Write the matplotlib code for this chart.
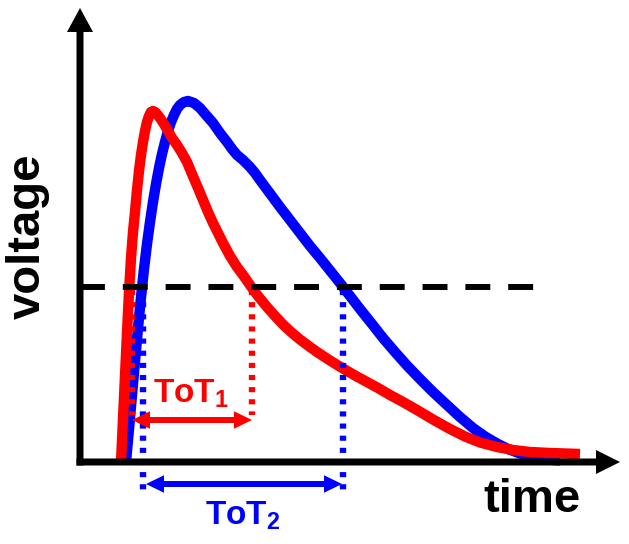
import matplotlib
matplotlib.use("Agg")
import matplotlib.pyplot as plt

plt.rcParams['font.family'] = ['Liberation Sans', 'DejaVu Sans']
plt.rcParams['mathtext.fontset'] = 'custom'
plt.rcParams['mathtext.rm'] = 'Liberation Sans:bold'
plt.rcParams['mathtext.it'] = 'Liberation Sans:bold'
plt.rcParams['mathtext.bf'] = 'Liberation Sans:bold'
plt.rcParams['mathtext.default'] = 'rm'

# ---- data (arbitrary time / voltage units) ----
red_t = [41, 43, 45, 47, 49, 51, 53, 55, 57, 59, 61, 63, 65, 67, 69, 71, 73, 75, 77,
         80, 84, 88, 92, 97, 102, 107, 112, 118, 123, 128, 133, 138, 143, 150, 157,
         163, 170, 178, 187, 195, 203, 211, 220, 228, 237, 250, 263, 275, 287, 298,
         310, 323, 337, 353, 370, 385, 400, 417, 433, 450, 470, 500]
red_v = [0, 43, 86, 129, 170, 204, 230, 250, 272, 291, 307, 320, 331, 340, 346, 350,
         351, 350, 348, 344, 338, 331, 324, 317, 309, 300, 288, 274, 262, 250, 239, 229,
         219, 206, 195, 187, 177, 166, 155, 146, 137.5, 130, 122.5, 116.5, 110, 101.5,
         93.5, 86.5, 80, 74, 67, 60, 52, 42.5, 33, 25.5, 19.5, 15, 12, 10, 9, 8]

blue_t = [46, 49, 52, 55, 58, 61, 64, 67, 70, 73, 76, 79, 82, 85, 88, 91, 94, 97, 100,
          104, 108, 114, 120, 126, 133, 140, 147, 152, 157, 163, 170, 175, 180, 190,
          200, 210, 220, 230, 240, 250, 260, 270, 280, 292, 303, 315, 327, 340, 353,
          367, 380, 393, 405, 417, 428, 440, 453, 467, 480]
blue_v = [0, 33, 67, 101, 134, 165, 193, 218, 240, 260, 278, 294, 308, 320, 331, 340,
          347, 353, 357, 360, 361, 359, 354, 347, 339, 329, 320, 313, 307, 302, 295, 289,
          282, 268.5, 255, 242, 229, 216, 204, 191.5, 179, 166, 153, 138, 124, 110, 96.5,
          83, 70, 57, 45, 34, 25.5, 18.5, 13, 8.5, 5, 2.5, 1.5]

threshold = 175
red_tot = [52, 172]
blue_tot = [63, 263]

fig = plt.figure(figsize=(6.29, 5.44), dpi=100)
ax = fig.add_axes([0, 0, 1, 1])
ax.set_xlim(-80, 549)
ax.set_ylim(-82, 462)
ax.axis('off')

RED = '#ff0000'
BLUE = '#0000ff'

# pulses
ax.plot(blue_t, blue_v, color=BLUE, lw=7.5, solid_joinstyle='round',
        solid_capstyle='butt', zorder=3)
ax.plot(red_t, red_v, color=RED, lw=7.5, solid_joinstyle='round',
        solid_capstyle='butt', zorder=4)

# dotted projections
dot = (0, (0.8, 1.1))
for t in red_tot:
    ax.plot([t, t], [threshold - 3, 47], color=RED, lw=4.6, linestyle=dot,
            dash_capstyle='butt', zorder=5)
for t in blue_tot:
    ax.plot([t, t], [threshold - 3, -28], color=BLUE, lw=4.6, linestyle=dot,
            dash_capstyle='butt', zorder=5)

# threshold
ax.plot([0, 455], [threshold, threshold], color='k', lw=4.3,
        linestyle=(0, (4.17, 3.0)), dash_capstyle='butt', zorder=6)

# axes arrows
ax.arrow(0, -3.5, 0, 457.5, width=7, head_width=26, head_length=24,
         length_includes_head=True, color='k', lw=0, zorder=7)
ax.arrow(-3.5, 0, 543.5, 0, width=7, head_width=24, head_length=24,
         length_includes_head=True, color='k', lw=0, zorder=7)


# ToT arrows (double headed)
def double_arrow(t0, t1, v, color):
    mid = 0.5 * (t0 + t1)
    for end in (t0, t1):
        ax.arrow(mid, v, end - mid, 0, width=6, head_width=17.5, head_length=18,
                 length_includes_head=True, color=color, lw=0, zorder=8)


double_arrow(red_tot[0], red_tot[1], 42, RED)
double_arrow(blue_tot[0] + 3, blue_tot[1] - 1, -22, BLUE)

ax.text(111, 59, r'ToT$_{1}$', color=RED, fontsize=24, fontweight='bold',
        ha='center', va='baseline', zorder=9)
ax.text(163, -63, r'ToT$_{2}$', color=BLUE, fontsize=24, fontweight='bold',
        ha='center', va='baseline', zorder=9)

ax.text(452, -50, 'time', color='k', fontsize=34, fontweight='bold',
        ha='center', va='baseline')
ax.text(-52, 226, 'voltage', color='k', fontsize=34, fontweight='bold',
        ha='center', va='center', rotation=90)

fig.savefig('out.png', dpi=100)
